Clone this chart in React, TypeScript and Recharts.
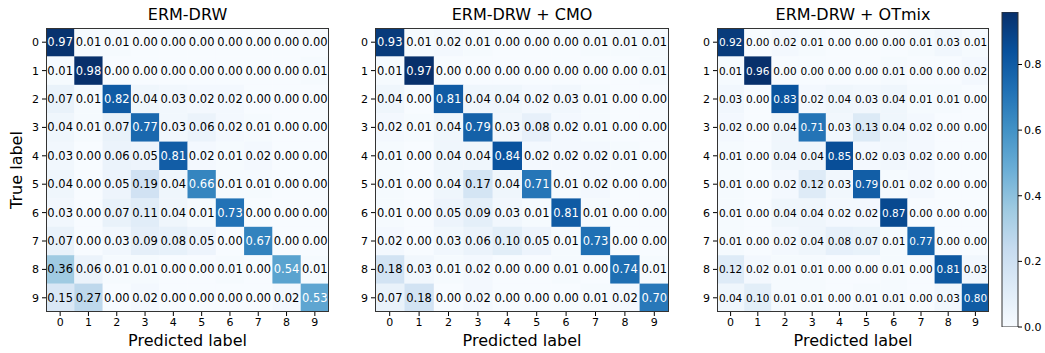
import React from 'react'
import { ScatterChart, Scatter, XAxis, YAxis, BarChart, Bar } from 'recharts'

const CLASSES = [0, 1, 2, 3, 4, 5, 6, 7, 8, 9]
const COLORBAR_TICKS = [0, 0.2, 0.4, 0.6, 0.8]

// rows = true label, columns = predicted label
const ERM_DRW = [
  [0.97, 0.01, 0.01, 0.0, 0.0, 0.0, 0.0, 0.0, 0.0, 0.0],
  [0.01, 0.98, 0.0, 0.0, 0.0, 0.0, 0.0, 0.0, 0.0, 0.01],
  [0.07, 0.01, 0.82, 0.04, 0.03, 0.02, 0.02, 0.0, 0.0, 0.0],
  [0.04, 0.01, 0.07, 0.77, 0.03, 0.06, 0.02, 0.01, 0.0, 0.0],
  [0.03, 0.0, 0.06, 0.05, 0.81, 0.02, 0.01, 0.02, 0.0, 0.0],
  [0.04, 0.0, 0.05, 0.19, 0.04, 0.66, 0.01, 0.01, 0.0, 0.0],
  [0.03, 0.0, 0.07, 0.11, 0.04, 0.01, 0.73, 0.0, 0.0, 0.0],
  [0.07, 0.0, 0.03, 0.09, 0.08, 0.05, 0.0, 0.67, 0.0, 0.0],
  [0.36, 0.06, 0.01, 0.01, 0.0, 0.0, 0.01, 0.0, 0.54, 0.01],
  [0.15, 0.27, 0.0, 0.02, 0.0, 0.0, 0.0, 0.0, 0.02, 0.53],
]

const ERM_DRW_CMO = [
  [0.93, 0.01, 0.02, 0.01, 0.0, 0.0, 0.0, 0.01, 0.01, 0.01],
  [0.01, 0.97, 0.0, 0.0, 0.0, 0.0, 0.0, 0.0, 0.0, 0.01],
  [0.04, 0.0, 0.81, 0.04, 0.04, 0.02, 0.03, 0.01, 0.0, 0.0],
  [0.02, 0.01, 0.04, 0.79, 0.03, 0.08, 0.02, 0.01, 0.0, 0.0],
  [0.01, 0.0, 0.04, 0.04, 0.84, 0.02, 0.02, 0.02, 0.01, 0.0],
  [0.01, 0.0, 0.04, 0.17, 0.04, 0.71, 0.01, 0.02, 0.0, 0.0],
  [0.01, 0.0, 0.05, 0.09, 0.03, 0.01, 0.81, 0.01, 0.0, 0.0],
  [0.02, 0.0, 0.03, 0.06, 0.1, 0.05, 0.01, 0.73, 0.0, 0.0],
  [0.18, 0.03, 0.01, 0.02, 0.0, 0.0, 0.01, 0.0, 0.74, 0.01],
  [0.07, 0.18, 0.0, 0.02, 0.0, 0.0, 0.0, 0.01, 0.02, 0.7],
]

const ERM_DRW_OTMIX = [
  [0.92, 0.0, 0.02, 0.01, 0.0, 0.0, 0.0, 0.01, 0.03, 0.01],
  [0.01, 0.96, 0.0, 0.0, 0.0, 0.0, 0.01, 0.0, 0.0, 0.02],
  [0.03, 0.0, 0.83, 0.02, 0.04, 0.03, 0.04, 0.01, 0.01, 0.0],
  [0.02, 0.0, 0.04, 0.71, 0.03, 0.13, 0.04, 0.02, 0.0, 0.0],
  [0.01, 0.0, 0.04, 0.04, 0.85, 0.02, 0.03, 0.02, 0.0, 0.0],
  [0.01, 0.0, 0.02, 0.12, 0.03, 0.79, 0.01, 0.02, 0.0, 0.0],
  [0.01, 0.0, 0.04, 0.04, 0.02, 0.02, 0.87, 0.0, 0.0, 0.0],
  [0.01, 0.0, 0.02, 0.04, 0.08, 0.07, 0.01, 0.77, 0.0, 0.0],
  [0.12, 0.02, 0.01, 0.01, 0.0, 0.0, 0.01, 0.0, 0.81, 0.03],
  [0.04, 0.1, 0.01, 0.01, 0.0, 0.01, 0.01, 0.0, 0.03, 0.8],
]

// matplotlib "Blues"
const BLUES = [
  [247, 251, 255], [222, 235, 247], [198, 219, 239], [158, 202, 225], [107, 174, 214],
  [66, 146, 198], [33, 113, 181], [8, 81, 156], [8, 48, 107],
]

function blues(t: number) {
  const s = Math.max(0, Math.min(1, t)) * (BLUES.length - 1)
  const i = Math.min(BLUES.length - 2, Math.floor(s))
  const f = s - i
  const c = BLUES[i].map((a, k) => Math.round(a + (BLUES[i + 1][k] - a) * f))
  return `rgb(${c[0]},${c[1]},${c[2]})`
}

const FONT = '"DejaVu Sans", sans-serif'
const CHART_H = 353
const PLOT_TOP = 28
const PLOT_H = 284
const XAXIS_H = CHART_H - PLOT_TOP - PLOT_H
const FRAME = '#333'
const TICK_FONT = 11

interface MatrixProps {
  title: string
  matrix: number[][]
  left: number
  yAxisWidth: number
  plotW: number
  fontSize: number
  showYLabel?: boolean
}

function Matrix({ title, matrix, left, yAxisWidth, plotW, fontSize, showYLabel }: MatrixProps) {
  const cells = matrix.flatMap((row, r) => row.map((v, c) => ({ x: c, y: r, v })))
  const vmax = Math.max(...matrix.flat())
  const cw = plotW / 10
  const ch = PLOT_H / 10
  const width = yAxisWidth + plotW + 2
  const plotLeft = left + yAxisWidth

  const renderCell = (props: any) => {
    const { cx, cy, payload } = props
    const white = payload.v > vmax / 2
    return (
      <g>
        <rect x={cx - cw / 2} y={cy - ch / 2} width={cw + 0.3} height={ch + 0.3} fill={blues(payload.v / vmax)} />
        <text x={cx} y={cy} textAnchor="middle" dominantBaseline="central" fontSize={fontSize}
          fill={white ? '#fff' : '#000'} fontFamily={FONT}>
          {payload.v.toFixed(2)}
        </text>
      </g>
    )
  }

  return (
    <>
      <div style={{ position: 'absolute', left: plotLeft, width: plotW, top: 7, textAlign: 'center', fontSize: 16, lineHeight: '16px', whiteSpace: 'nowrap' }}>
        {title}
      </div>
      <div style={{ position: 'absolute', left, top: 0 }}>
        <ScatterChart width={width} height={CHART_H} margin={{ top: PLOT_TOP, right: width - yAxisWidth - plotW, bottom: 0, left: 0 }}>
          <XAxis dataKey="x" type="number" domain={[-0.5, 9.5]} ticks={CLASSES} interval={0} allowDataOverflow
            height={XAXIS_H} axisLine={false} tickSize={4} tickMargin={2}
            tickLine={{ stroke: '#000' }} tick={{ fontSize: TICK_FONT, fill: '#000' }} />
          <YAxis dataKey="y" type="number" domain={[-0.5, 9.5]} ticks={CLASSES} interval={0} allowDataOverflow reversed
            width={yAxisWidth} axisLine={false} tickSize={4} tickMargin={3}
            tickLine={{ stroke: '#000' }} tick={{ fontSize: TICK_FONT, fill: '#000' }} />
          <Scatter data={cells} shape={renderCell} isAnimationActive={false} />
        </ScatterChart>
      </div>
      <div style={{ position: 'absolute', left: plotLeft, top: PLOT_TOP, width: plotW, height: PLOT_H, border: `1px solid ${FRAME}`, boxSizing: 'border-box', pointerEvents: 'none' }} />
      <div style={{ position: 'absolute', left: plotLeft, width: plotW, top: 333, textAlign: 'center', fontSize: 16, lineHeight: '16px', whiteSpace: 'nowrap' }}>
        Predicted label
      </div>
      {showYLabel && (
        <div style={{ position: 'absolute', left: 17, top: PLOT_TOP + PLOT_H / 2, transform: 'translate(-50%, -50%) rotate(-90deg)', fontSize: 16, lineHeight: '16px', whiteSpace: 'nowrap' }}>
          True label
        </div>
      )}
    </>
  )
}

function Colorbar({ vmax }: { vmax: number }) {
  const data = [{ name: 'cb', v: vmax }]
  return (
    <div style={{ position: 'absolute', left: 990, top: 0 }}>
      <BarChart width={55} height={CHART_H} data={data} barCategoryGap={0} margin={{ top: 12, right: 0, bottom: 26, left: 12 }}>
        <defs>
          <linearGradient id="cbGrad" x1="0" y1="0" x2="0" y2="1">
            {BLUES.map((_, i) => (
              <stop key={i} offset={`${(i / (BLUES.length - 1)) * 100}%`} stopColor={blues(1 - i / (BLUES.length - 1))} />
            ))}
          </linearGradient>
        </defs>
        <XAxis dataKey="name" hide />
        <YAxis orientation="right" type="number" domain={[0, vmax]} ticks={COLORBAR_TICKS} allowDataOverflow
          width={27} axisLine={false} tickSize={4} tickMargin={2}
          tickFormatter={(v: number) => v.toFixed(1)}
          tickLine={{ stroke: '#000' }} tick={{ fontSize: TICK_FONT, fill: '#000' }} />
        <Bar dataKey="v" fill="url(#cbGrad)" stroke={FRAME} strokeWidth={1} isAnimationActive={false} />
      </BarChart>
    </div>
  )
}

export default function App() {
  const vmax = Math.max(...ERM_DRW_OTMIX.flat())
  return (
    <div style={{ position: 'absolute', left: 0, top: 0, width: 1045, height: CHART_H, background: '#fff', fontFamily: FONT, color: '#000' }}>
      <Matrix title="ERM-DRW" matrix={ERM_DRW} left={0} yAxisWidth={46} plotW={283} fontSize={11.5} showYLabel />
      <Matrix title="ERM-DRW + CMO" matrix={ERM_DRW_CMO} left={335} yAxisWidth={40} plotW={294} fontSize={11.5} />
      <Matrix title="ERM-DRW + OTmix" matrix={ERM_DRW_OTMIX} left={680} yAxisWidth={37} plotW={272} fontSize={10.5} />
      <Colorbar vmax={vmax} />
    </div>
  )
}
